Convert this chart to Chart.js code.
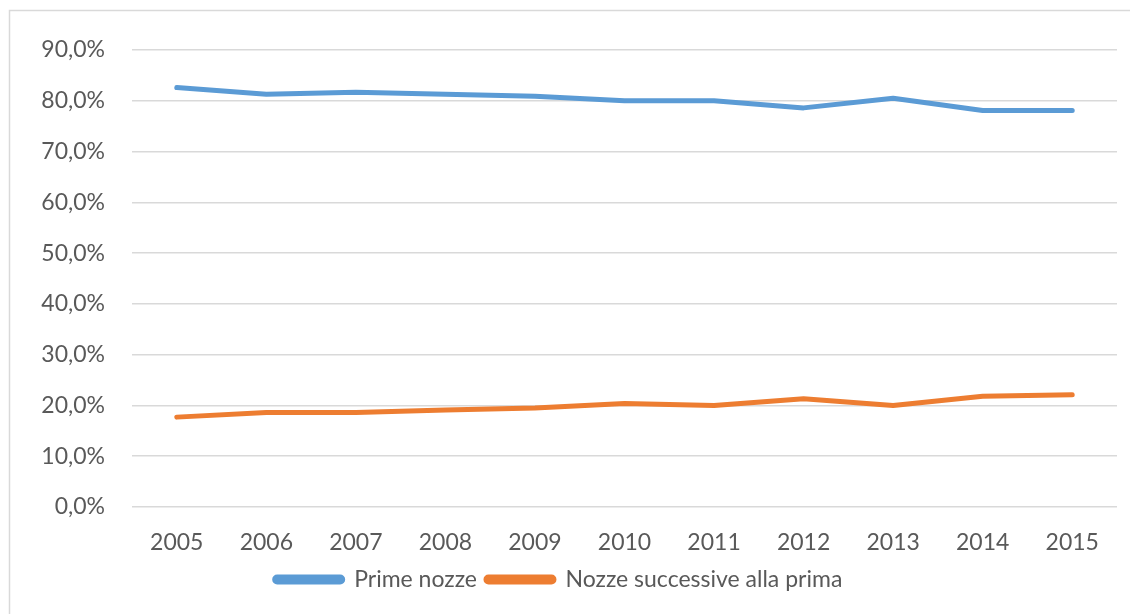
<!DOCTYPE html>
<html>
<head>
<meta charset="utf-8">
<script src="https://cdn.jsdelivr.net/npm/chart.js@4"></script>
<style>
  html, body { margin: 0; padding: 0; background: #fff; }
  #wrap { width: 1130px; height: 614px; position: relative; }
</style>
</head>
<body>
<div id="wrap"><canvas id="myChart" width="1130" height="614"></canvas></div>
<script>
// data
const years = ['2005', '2006', '2007', '2008', '2009', '2010', '2011', '2012', '2013', '2014', '2015'];
const primeNozze = [82.6, 81.3, 81.7, 81.3, 80.9, 80.0, 80.0, 78.6, 80.5, 78.1, 78.1];
const nozzeSuccessive = [17.7, 18.6, 18.6, 19.1, 19.5, 20.4, 20.0, 21.3, 20.0, 21.8, 22.1];
const yTicks = [0, 10, 20, 30, 40, 50, 60, 70, 80, 90];

const FONT = 'Lato, "Open Sans", sans-serif';
const FSIZE = 23;

// light gray frame round the chart, like the excel box
const frame = {
  id: 'frame',
  beforeDraw(chart) {
    const c = chart.ctx;
    c.save();
    c.strokeStyle = '#d9d9d9';
    c.lineWidth = 1.5;
    c.beginPath();
    c.moveTo(9.5, 614);
    c.lineTo(9.5, 10.5);
    c.lineTo(1130, 10.5);
    c.stroke();
    c.restore();
  }
};

const ctx = document.getElementById('myChart');

new Chart(ctx, {
  type: 'line',
  data: {
    labels: years,
    datasets: [{
      label: 'Prime nozze',
      data: primeNozze,
      borderColor: '#5B9BD5',
      backgroundColor: '#5B9BD5',
      borderWidth: 5,
      pointRadius: 0,
      borderCapStyle: 'round',
      borderJoinStyle: 'round',
      tension: 0
    }, {
      label: 'Nozze successive alla prima',
      data: nozzeSuccessive,
      borderColor: '#ED7D31',
      backgroundColor: '#ED7D31',
      borderWidth: 5,
      pointRadius: 0,
      borderCapStyle: 'round',
      borderJoinStyle: 'round',
      tension: 0
    }]
  },
  options: {
    responsive: false,
    animation: false,
    layout: { padding: { top: 50, right: 13, left: 0, bottom: 13 } },
    plugins: {
      tooltip: { enabled: false },
      legend: {
        position: 'bottom',
        labels: {
          font: { family: FONT, size: FSIZE },
          color: '#595959',
          boxWidth: 68,
          boxHeight: 5,
          padding: 9,
          useBorderRadius: true,
          borderRadius: 2.5
        }
      }
    },
    scales: {
      x: {
        offset: true,
        afterFit(scale) { scale.height = 52; },
        grid: { display: false, drawTicks: false },
        border: { display: false },
        ticks: {
          font: { family: FONT, size: FSIZE },
          color: '#595959',
          padding: 22,
          maxRotation: 0
        }
      },
      y: {
        min: 0,
        max: 90,
        afterBuildTicks(scale) {
          scale.ticks = yTicks.map(v => ({ value: v }));
        },
        afterFit(scale) { scale.width = 132; },
        grid: { color: '#d9d9d9', lineWidth: 1.5, drawTicks: false },
        border: { display: false },
        ticks: {
          font: { family: FONT, size: FSIZE },
          color: '#595959',
          padding: 27,
          callback: v => v.toFixed(1).replace('.', ',') + '%'
        }
      }
    }
  },
  plugins: [frame]
});
</script>
</body>
</html>
